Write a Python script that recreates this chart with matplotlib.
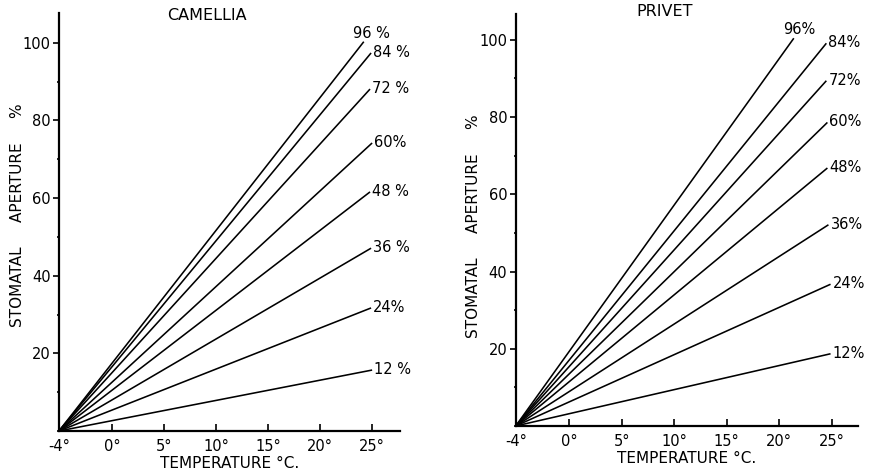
import numpy as np
import matplotlib
matplotlib.use("Agg")
import matplotlib.pyplot as plt
from matplotlib.ticker import FixedLocator, MultipleLocator

# Relative humidity of each curve and where each straight line ends.
HUMIDITY = [96, 84, 72, 60, 48, 36, 24, 12]
ORIGIN_TEMP = -4
ORIGIN_APERTURE = 0

camellia_end_temp = [24.2, 24.9, 24.8, 25.0, 24.8, 24.9, 24.9, 25.0]
camellia_end_aperture = [100.3, 97.4, 88.1, 74.2, 61.6, 47.1, 31.7, 15.7]
camellia_labels = ["96 %", "84 %", "72 %", "60%", "48 %", "36 %", "24%", "12 %"]

privet_end_temp = [21.4, 24.5, 24.5, 24.6, 24.6, 24.7, 24.9, 24.9]
privet_end_aperture = [100.4, 99.1, 89.4, 78.6, 66.8, 52.1, 36.7, 18.7]
privet_labels = ["96%", "84%", "72%", "60%", "48%", "36%", "24%", "12%"]

temp_ticks = [-4, 0, 5, 10, 15, 20, 25]
temp_tick_labels = ["-4°", "0°", "5°", "10°", "15°", "20°", "25°"]
aperture_ticks = [20, 40, 60, 80, 100]

plt.rcParams["font.family"] = ["DejaVu Sans"]
plt.rcParams["font.size"] = 10


def stretch(x):
    # the sub-zero part of the temperature axis is drawn wider
    x = np.asarray(x, dtype=float)
    return np.where(x < 0, x * 1.27, x)


def unstretch(x):
    x = np.asarray(x, dtype=float)
    return np.where(x < 0, x / 1.27, x)


def draw_panel(ax, title, end_temp, end_aperture, labels, xmax, ymax,
               title_y, ylabel_xy):

    ax.set_xscale("function", functions=(stretch, unstretch))
    ax.set_xlim(ORIGIN_TEMP, xmax)
    ax.set_ylim(0, ymax)

    for i, (t, a) in enumerate(zip(end_temp, end_aperture)):
        ax.plot([ORIGIN_TEMP, t], [ORIGIN_APERTURE, a], color="black",
                lw=1.15, solid_capstyle="butt", clip_on=False)
        if i == 0:
            ax.annotate(labels[i], (t, a), xytext=(-8, 6),
                        textcoords="offset points", ha="left", va="center",
                        fontsize=10.5)
        else:
            ax.annotate(labels[i], (t, a), xytext=(1.5, 0.5),
                        textcoords="offset points", ha="left", va="center",
                        fontsize=10.5)

    for side in ["top", "right"]:
        ax.spines[side].set_visible(False)
    for side in ["left", "bottom"]:
        ax.spines[side].set_linewidth(1.6)

    ax.xaxis.set_major_locator(FixedLocator(temp_ticks))
    ax.set_xticklabels(temp_tick_labels)
    ax.yaxis.set_major_locator(FixedLocator(aperture_ticks))
    ax.yaxis.set_minor_locator(MultipleLocator(10))

    ax.tick_params(axis="x", direction="in", length=5, width=1.2, pad=6,
                   labelsize=10.5)
    ax.tick_params(axis="y", which="major", direction="out", length=4,
                   width=1.2, pad=2, labelsize=10.5)
    ax.tick_params(axis="y", which="minor", direction="out", length=1.5,
                   width=1.2)

    ax.set_xlabel("TEMPERATURE °C.", fontsize=11, labelpad=1)
    ax.set_ylabel("STOMATAL     APERTURE     %", fontsize=11)
    ax.yaxis.set_label_coords(*ylabel_xy)
    ax.text(0.434, title_y, title, transform=ax.transAxes, ha="center",
            va="center", fontsize=11.5)


fig = plt.figure(figsize=(8.75, 4.72), dpi=100)

ax1 = fig.add_axes([0.0674, 0.0869, 0.390, 0.8856])
draw_panel(ax1, "CAMELLIA", camellia_end_temp, camellia_end_aperture,
           camellia_labels, 27.7, 107.7, 0.995, (-0.100, 0.517))

ax2 = fig.add_axes([0.5894, 0.0975, 0.391, 0.873])
draw_panel(ax2, "PRIVET", privet_end_temp, privet_end_aperture,
           privet_labels, 27.5, 106.7, 1.007, (-0.102, 0.485))

fig.savefig("out.png", dpi=100)
